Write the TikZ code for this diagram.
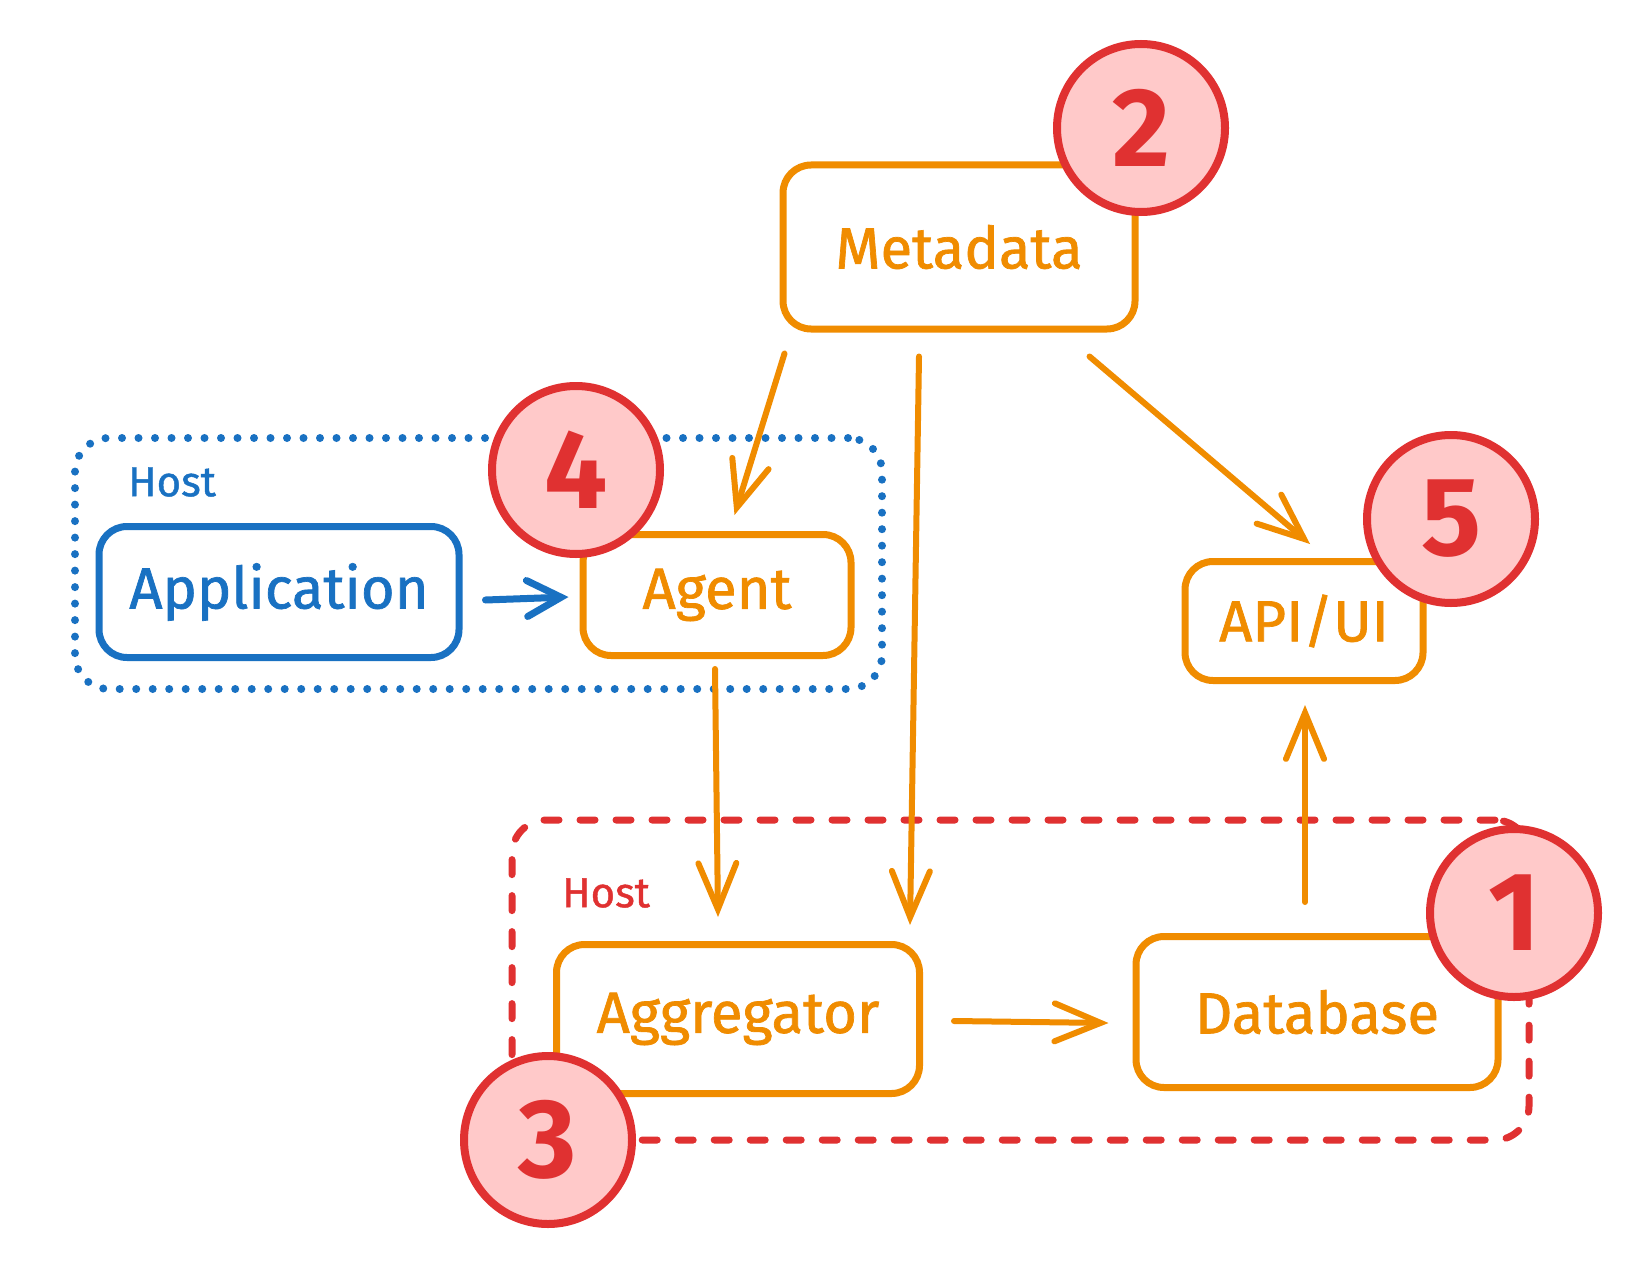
\documentclass[tikz,border=0pt]{standalone}
\usepackage{fontspec}
\setmainfont{Fira Sans}
\usetikzlibrary{arrows.meta,calc}
\definecolor{orng}{HTML}{F08C00}
\definecolor{blu}{HTML}{1971C2}
\definecolor{rd}{HTML}{E03131}
\definecolor{pnk}{HTML}{FFC9C9}
\tikzset{
  lblfont/.style={font=\fontsize{58}{64}\selectfont\addfontfeature{FakeBold=1.2}},
  obox/.style={draw=orng, text=orng, line width=7pt, rounded corners=28pt, inner sep=0pt, lblfont},
  bbox/.style={draw=blu, text=blu, line width=7pt, rounded corners=28pt, inner sep=0pt, lblfont},
  oarr/.style={draw=orng, line width=6pt, line cap=round, line join=round,
    -{Straight Barb[length=46pt,width=38pt,line cap=round]}},
  barr/.style={draw=blu, line width=7pt, line cap=round, line join=round,
    -{Straight Barb[length=34pt,width=36pt,line cap=round]}},
  numc/.style={circle, draw=rd, fill=pnk, line width=8pt, minimum size=168pt, inner sep=0pt,
    text=rd, font=\fontsize{112}{112}\bfseries\selectfont},
  bluehost/.style={draw=blu, line width=8pt, line cap=round, dash pattern=on 0pt off 16.5pt,
    rounded corners=34pt, inner sep=0pt},
  redhost/.style={draw=rd, line width=7pt, line cap=round, dash pattern=on 15pt off 21pt,
    rounded corners=34pt, inner sep=0pt},
  hostlbl/.style={font=\fontsize{42}{46}\selectfont\addfontfeature{FakeBold=1}, inner sep=0pt}
}
\begin{document}
\begin{tikzpicture}[x=1pt,y=-1pt]
\fill[white] (0,0) rectangle (1637,1284);
\useasboundingbox (0,0) rectangle (1637,1284);

% host containers
\node[bluehost, minimum width=807pt, minimum height=251pt] (bhost) at (478.5,563.5) {};
\node[redhost, minimum width=1017pt, minimum height=320pt] (rhost) at (1020.5,980) {};
\node[hostlbl, text=blu] (bhostlbl) at (172,482) {Host};
\node[hostlbl, text=rd] (rhostlbl) at (606,893) {Host};

% boxes
\node[obox, minimum width=352pt, minimum height=164pt] (meta) at (959,247) {Metadata};
\node[bbox, minimum width=360pt, minimum height=131pt] (app) at (279,592) {Application};
\node[obox, minimum width=268pt, minimum height=121pt] (agent) at (717,595) {Agent};
\node[obox, minimum width=238pt, minimum height=119pt] (api) at (1304,621) {API/UI};
\node[obox, minimum width=363pt, minimum height=149pt] (agg) at (738,1019) {Aggregator};
\node[obox, minimum width=362pt, minimum height=151pt] (db) at (1317,1012) {Database};

% connectors
\draw[oarr] ($(meta.south west)+(5,21)$) -- ($(agent.north west)+(155,-16)$);
\draw[oarr] ($(meta.south)+(-40,24)$) -- ($(agg.north)+(172,-16)$);
\draw[oarr] ($(meta.south east)+(-49,24)$) -- ($(api.north)+(6,-14)$);
\draw[barr] ($(app.east)+(23,8)$) -- ($(agent.west)+(-11,2)$);
\draw[oarr] ($(agent.south)+(-2,10)$) -- ($(agg.north)+(-20,-24)$);
\draw[oarr] ($(agg.east)+(31,2)$) -- ($(db.west)+(-24,11)$);
\draw[oarr] ($(db.north)+(-12,-31)$) -- ($(api.south)+(1,21)$);

% numbered circles
\node[numc] (c2) at (1141,128) {2};
\node[numc] (c4) at (576,470) {4};
\node[numc] (c5) at (1451,519) {5};
\node[numc] (c1) at (1514,913) {1};
\node[numc] (c3) at (548,1140) {3};
\end{tikzpicture}
\end{document}
